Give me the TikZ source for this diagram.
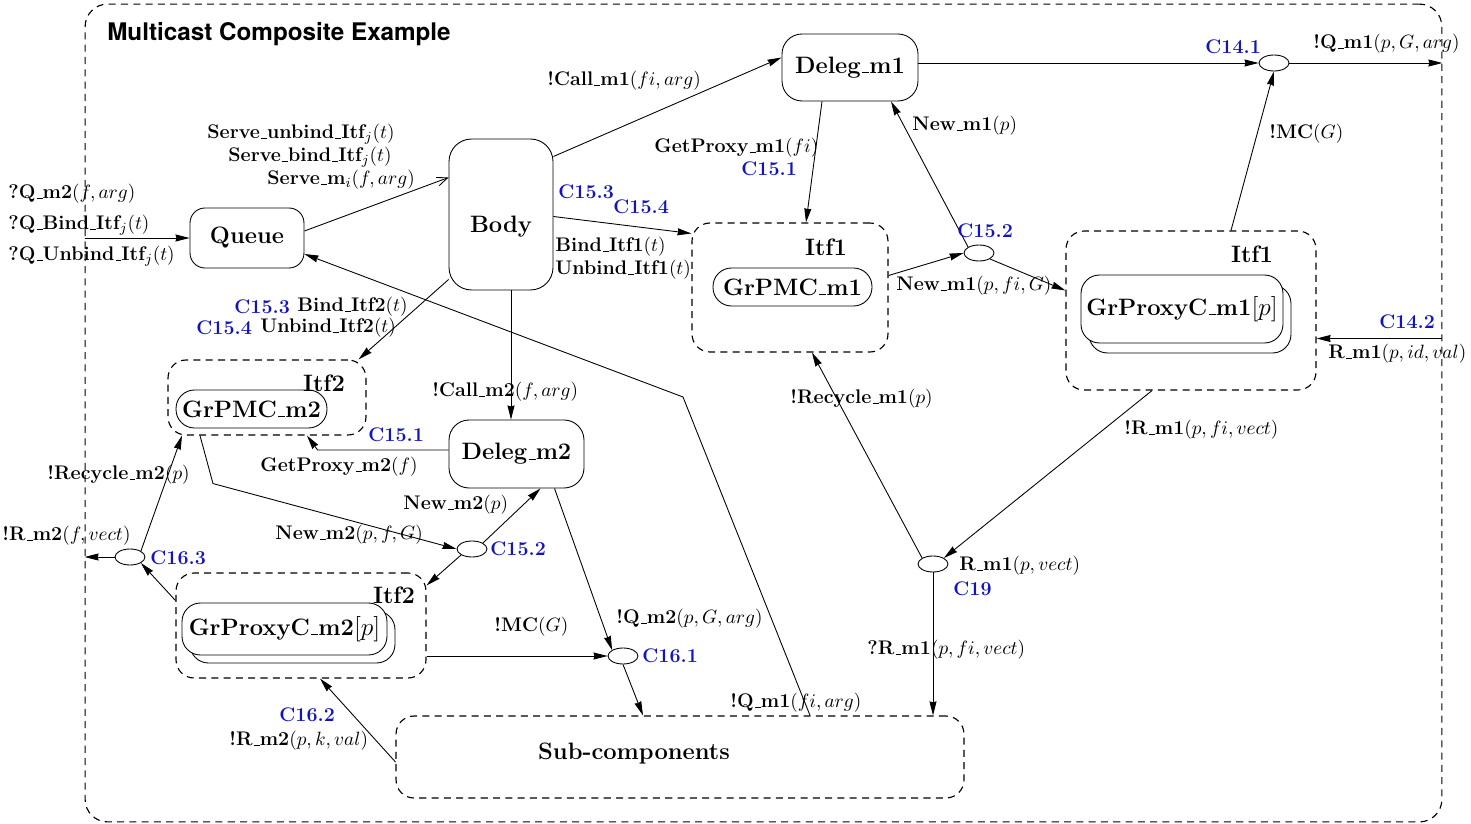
\documentclass[tikz,border=0pt]{standalone}
\usepackage{fontspec}
\newfontfamily\titlefont{TeX Gyre Heros}
\usetikzlibrary{arrows.meta,calc,shapes.geometric}
\definecolor{cblue}{RGB}{20,20,190}
\newcommand{\usc}{\leavevmode\kern.06em\vbox{\hrule width.3em height 0.5pt}}

\begin{document}
\begin{tikzpicture}[
  x=0.02cm, y=-0.02cm,
  line width=0.5pt,
  every node/.style={font=\fontsize{13.5}{15}\selectfont\bfseries},
  comp/.style={draw, rounded corners=0.4cm, inner sep=0pt},
  itfbox/.style={draw, line width=0.65pt, dash pattern=on 4pt off 3pt, rounded corners=0.36cm, inner sep=0pt},
  grbox/.style={draw, rounded corners=0.37cm, inner sep=0pt, fill=white},
  conn/.style={draw, ellipse, minimum width=0.6cm, minimum height=0.32cm, inner sep=0pt},
  lbl/.style={anchor=west, inner sep=0pt, font=\fontsize{11.2}{13}\selectfont\bfseries},
  cid/.style={lbl, text=cblue},
  msg/.style={-{Stealth[length=8pt,width=4pt,inset=0.5pt]}}
]
\useasboundingbox (0,0) rectangle (1471,824);
\node[itfbox, minimum width=27.14cm, minimum height=16.36cm, rounded corners=0.45cm] (outer) at (763.5,413) {};
\node[font=\titlefont\fontsize{13.8}{15}\selectfont\bfseries] (title) at (279,34) {Multicast Composite Example};

\node[comp, minimum width=2.28cm, minimum height=1.2cm, rounded corners=0.3cm] (queue) at (247,238) {Queue};
\node[comp, minimum width=2.08cm, minimum height=3.02cm, rounded corners=0.45cm] (body) at (501,214.5) {};
\node (bodytxt) at (501,227) {Body};
\node[comp, minimum width=2.72cm, minimum height=1.34cm] (deleg1) at (850,67.5) {Deleg\usc m1};
\node[comp, minimum width=2.7cm, minimum height=1.36cm] (deleg2) at (516.5,454) {Deleg\usc m2};

\node[itfbox, minimum width=3.92cm, minimum height=2.58cm] (itf1a) at (790,287.5) {};
\node (itf1atxt) at (826,247) {Itf1};
\node[grbox, minimum width=3.18cm, minimum height=0.76cm] (grpmc1) at (792.5,287) {GrPMC\usc m1};
\node[itfbox, minimum width=5cm, minimum height=3.18cm] (itf1b) at (1191,310.5) {};
\node (itf1btxt) at (1252,254) {Itf1};
\node[grbox, minimum width=4.04cm, minimum height=1.36cm] (gpx1back) at (1190,319) {};
\node[grbox, minimum width=4.04cm, minimum height=1.36cm] (gpx1) at (1182,309) {GrProxyC\usc m1$[p]$};

\node[itfbox, minimum width=3.96cm, minimum height=1.5cm] (itf2a) at (267,397.5) {};
\node[grbox, minimum width=3.02cm, minimum height=0.76cm] (grpmc2) at (251.5,409) {GrPMC\usc m2};
\node (itf2atxt) at (324,383) {Itf2};
\node[itfbox, minimum width=5cm, minimum height=2.1cm] (itf2b) at (301,625.5) {};
\node[grbox, minimum width=4.1cm, minimum height=1.04cm] (gpx2back) at (292.5,637) {};
\node[grbox, minimum width=4.1cm, minimum height=1.04cm] (gpx2) at (284.5,629) {GrProxyC\usc m2$[p]$};
\node (itf2btxt) at (394,595) {Itf2};

\node[itfbox, minimum width=11.36cm, minimum height=1.64cm] (sub) at (680,757) {};
\node (subtxt) at (634,754) {Sub-components};

\node[conn] (c141) at (1274,63) {};
\node[conn] (c152a) at (979,253) {};
\node[conn] (c19) at (933,564) {};
\node[conn] (c152b) at (472,549) {};
\node[conn] (c163) at (130,557) {};
\node[conn] (c161) at (623,656) {};

\coordinate (r14) at ($(itf1b.east)+(0,28)$);
\coordinate (qbend) at (683,397);
\coordinate (b2) at ($(body.south)+(10,0)$);

\draw[msg] (deleg1.east |- c141.west) -- (c141.west);
\draw[msg] (c141.east) -- (c141.east -| outer.east);
\draw[msg] ($(itf1b.north)+(40,0)$) -- (c141.south);
\draw[msg] (r14 -| outer.east) -- (r14);
\draw[msg] ($(itf1b.south)+(-39,0)$) -- (c19.north east);
\draw[msg] (c19.north west) -- ($(itf1a.south)+(22,0)$);
\draw[msg] (c19.south) -- (c19.south |- sub.north);
\draw[msg] ($(itf1a.east)+(0,-12)$) -- (c152a.west);
\draw[msg] (c152a.south east) -- ($(itf1b.west)+(0,-20)$);
\draw[msg] (c152a.north west) -- ($(deleg1.south)+(41,0)$);
\draw[msg] ($(deleg1.south)+(-28,0)$) -- ($(itf1a.north)+(16,0)$);
\draw[msg] ($(body.east)+(0,-58)$) -- ($(deleg1.west)+(0,-10)$);
\draw[msg] ($(body.east)+(0,2)$) -- ($(itf1a.west)+(0,-54)$);
\draw[-{Straight Barb[length=6pt,width=5pt]}] ($(queue.east)+(0,-7)$) -- ($(body.west)+(0,-37)$);
\draw[msg] (queue.west -| outer.west) -- (queue.west);
\draw[msg] ($(sub.north)+(130,0)$) -- (qbend) -- ($(queue.east)+(0,16)$);
\draw[msg] ($(body.west)+(0,65)$) -- ($(itf2a.north east)+(-8,0)$);
\draw[msg] (b2) -- (b2 |- deleg2.north);
\draw[msg] ($(deleg2.west)+(0,-4)$) -- ++(-131,0) -- ($(itf2a.south)+(40,0)$);
\draw[msg] ($(itf2a.south)+(-67,0)$) -- ++(13,48) -- (c152b.west);
\draw[msg] (c152b.north east) -- ($(deleg2.south)+(24,0)$);
\draw[msg] (c152b.south west) -- ($(itf2b.north east)+(0,13)$);
\draw[msg] ($(deleg2.south)+(38,0)$) -- (c161.north west);
\draw[msg] (c161.west -| itf2b.east) -- (c161.west);
\draw[msg] (c161.south) -- ($(sub.north)+(-37,0)$);
\draw[msg] ($(sub.west)+(0,5)$) -- ($(itf2b.south)+(19,0)$);
\draw[msg] ($(itf2b.west)+(0,-25)$) -- (c163.south east);
\draw[msg] (c163.west) -- (c163.west -| outer.west);
\draw[msg] (c163.north east) -- ($(itf2a.south)+(-85,0)$);

\node[lbl] (lq1) at (8,194) {?Q\usc m2$(f,arg)$};
\node[lbl] (lq2) at (8,225) {?Q\usc Bind\usc Itf$_j(t)$};
\node[lbl] (lq3) at (8,256) {?Q\usc Unbind\usc Itf$_j(t)$};
\node[lbl] (ls1) at (207,134) {Serve\usc unbind\usc Itf$_j(t)$};
\node[lbl] (ls2) at (228,157) {Serve\usc bind\usc Itf$_j(t)$};
\node[lbl] (ls3) at (267,180) {Serve\usc m$_i(f,arg)$};
\node[lbl] (lcall1) at (547,81) {!Call\usc m1$(fi,arg)$};
\node[lbl] (lgp1) at (654,148) {GetProxy\usc m1$(fi)$};
\node[cid] (c151at) at (741,169) {C15.1};
\node[lbl] (lnew1) at (912,126) {New\usc m1$(p)$};
\node[cid] (c141t) at (1205,47) {C14.1};
\node[lbl] (lqout) at (1313,44) {!Q\usc m1$(p,G,arg)$};
\node[lbl] (lmc1) at (1269,134) {!MC$(G)$};
\node[cid] (c153at) at (558,192) {C15.3};
\node[cid] (c154at) at (613,207) {C15.4};
\node[lbl] (lb1) at (555,247) {Bind\usc Itf1$(t)$};
\node[lbl] (lu1) at (555,270) {Unbind\usc Itf1$(t)$};
\node[cid] (c152at) at (957,231) {C15.2};
\node[lbl] (lnew1b) at (896,286) {New\usc m1$(p,fi,G)$};
\node[cid] (c142t) at (1379,322) {C14.2};
\node[lbl] (lrin) at (1328,354) {R\usc m1$(p,id,val)$};
\node[lbl] (lr1) at (1124,430) {!R\usc m1$(p,fi,vect)$};
\node[lbl] (lrec1) at (790,399) {!Recycle\usc m1$(p)$};
\node[lbl] (lr19) at (959,566) {R\usc m1$(p,vect)$};
\node[cid] (c19t) at (953,589) {C19};
\node[lbl] (lr1q) at (867,650) {?R\usc m1$(p,fi,vect)$};
\node[lbl] (lqsub) at (730,703) {!Q\usc m1$(fi,arg)$};
\node[cid] (c153bt) at (234,307) {C15.3};
\node[lbl] (lb2) at (297,307) {Bind\usc Itf2$(t)$};
\node[cid] (c154bt) at (196,328) {C15.4};
\node[lbl] (lu2) at (260,328) {Unbind\usc Itf2$(t)$};
\node[lbl] (lcall2) at (432,392) {!Call\usc m2$(f,arg)$};
\node[cid] (c151bt) at (368,435) {C15.1};
\node[lbl] (lgp2) at (260,467) {GetProxy\usc m2$(f)$};
\node[lbl] (lrec2) at (47,475) {!Recycle\usc m2$(p)$};
\node[lbl] (lnew2) at (403,505) {New\usc m2$(p)$};
\node[lbl] (lnew2b) at (275,535) {New\usc m2$(p,f,G)$};
\node[cid] (c152bt) at (490,549) {C15.2};
\node[lbl] (lr2out) at (2,536) {!R\usc m2$(f,vect)$};
\node[cid] (c163t) at (150,558) {C16.3};
\node[lbl] (lmc2) at (494,627) {!MC$(G)$};
\node[lbl] (lq2c) at (616,619) {!Q\usc m2$(p,G,arg)$};
\node[cid] (c161t) at (642,656) {C16.1};
\node[cid] (c162t) at (279,715) {C16.2};
\node[lbl] (lr2) at (229,741) {!R\usc m2$(p,k,val)$};
\end{tikzpicture}
\end{document}
